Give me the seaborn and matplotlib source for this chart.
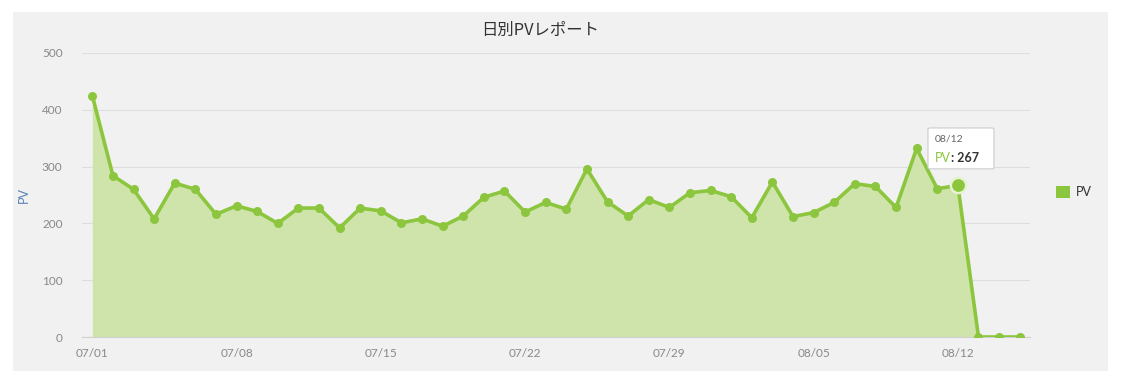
import numpy as np
import pandas as pd
import matplotlib
matplotlib.use("Agg")
import matplotlib.pyplot as plt
import seaborn as sns
from matplotlib.patches import Patch, Rectangle, FancyBboxPatch

dates = ["07/01", "07/02", "07/03", "07/04", "07/05", "07/06", "07/07", "07/08", "07/09", "07/10",
         "07/11", "07/12", "07/13", "07/14", "07/15", "07/16", "07/17", "07/18", "07/19", "07/20",
         "07/21", "07/22", "07/23", "07/24", "07/25", "07/26", "07/27", "07/28", "07/29", "07/30",
         "07/31", "08/01", "08/02", "08/03", "08/04", "08/05", "08/06", "08/07", "08/08", "08/09",
         "08/10", "08/11", "08/12", "08/13", "08/14", "08/15"]
pv = [425, 284, 260, 208, 271, 260, 216, 231, 221, 200,
      227, 227, 192, 227, 222, 201, 208, 195, 213, 246,
      257, 220, 237, 225, 296, 238, 213, 242, 228, 254,
      258, 247, 210, 273, 212, 219, 237, 270, 265, 228,
      332, 261, 267, 0, 0, 0]
tick_labels = ["07/01", "07/08", "07/15", "07/22", "07/29", "08/05", "08/12"]
y_ticks = [0, 100, 200, 300, 400, 500]
highlight = "08/12"

line_c = "#8cc63e"
fill_c = "#cfe4ab"

sns.set_theme(style="white")
plt.rcParams["font.family"] = ["Lato", "Noto Sans CJK JP", "DejaVu Sans"]

df = pd.DataFrame({"idx": np.arange(len(dates)), "date": dates, "PV": pv})

fig = plt.figure(figsize=(11.29, 3.88), dpi=100)
fig.patch.set_facecolor("white")
fig.patches.append(Rectangle((13 / 1129, 1 - 371 / 388), 1095 / 1129, 359 / 388,
                             transform=fig.transFigure, facecolor="#f1f1f1",
                             edgecolor="none", zorder=-10))
ax = fig.add_axes([82 / 1129, 1 - 337 / 388, (1030 - 82) / 1129, (337 - 53) / 388])
ax.set_facecolor("none")

ax.fill_between(df["idx"], df["PV"], 0, color=fill_c, alpha=1.0, lw=0, zorder=1)
sns.lineplot(data=df, x="idx", y="PV", ax=ax, color=line_c, lw=2.6, marker="o",
             markersize=6.5, markeredgewidth=0, zorder=3)

hi = dates.index(highlight)
ax.scatter([hi], [pv[hi]], s=120, color=line_c, edgecolor="#e6f2d0", linewidth=1.8, zorder=5)

ax.set_xlim(-0.5, 45.5)
ax.set_ylim(0, 500)
ax.set_yticks(y_ticks)
ax.set_yticklabels([str(v) for v in y_ticks])
ax.set_xticks([dates.index(t) for t in tick_labels])
ax.set_xticklabels(tick_labels)
ax.grid(axis="y", color="#dedede", lw=0.8)
ax.grid(axis="x", visible=False)
for s in ["top", "right", "left"]:
    ax.spines[s].set_visible(False)
ax.spines["bottom"].set_color("#d0d0d0")
ax.spines["bottom"].set_linewidth(0.8)
ax.tick_params(axis="x", colors="#888888", labelsize=8.5, length=5, width=0.8, direction="in", pad=8)
ax.tick_params(axis="x", color="#c8c8c8")
ax.tick_params(axis="y", colors="#888888", labelsize=8.5, length=0, pad=14)
ax.set_xlabel("")
ax.set_ylabel("PV", color="#5b83b8", fontsize=9)
ax.yaxis.set_label_coords((30 - 82) / 948, 0.5)

ax.set_title("日別PVレポート", fontsize=11.8, color="#333333", pad=13, x=(540 - 82) / 948,
             family=["Noto Sans CJK JP", "DejaVu Sans"])

# tooltip
box = FancyBboxPatch((40.55, 296), 3.2, 72, boxstyle="round,pad=0,rounding_size=0.1",
                     facecolor="white", edgecolor="#cccccc", lw=0.8, zorder=6,
                     mutation_aspect=20)
ax.add_patch(box)
ax.text(40.9, 348, highlight, fontsize=7.5, color="#666666", va="center", zorder=7)
t1 = ax.text(40.9, 316, "PV", fontsize=9, color=line_c, va="center", zorder=7)
ax.annotate(": " + str(pv[hi]), xycoords=t1, xy=(1, 0.5), va="center", fontsize=9,
            color="#333333", fontweight="bold", zorder=7)

leg = fig.legend(handles=[Patch(facecolor=line_c, edgecolor="none", label="PV")],
                 loc="center left", bbox_to_anchor=(1045 / 1129, 1 - 192 / 388),
                 frameon=False, fontsize=9, handlelength=1.1, handleheight=1.1,
                 handletextpad=0.5)
for t in leg.get_texts():
    t.set_color("#333333")

fig.savefig("out.png", dpi=100)
